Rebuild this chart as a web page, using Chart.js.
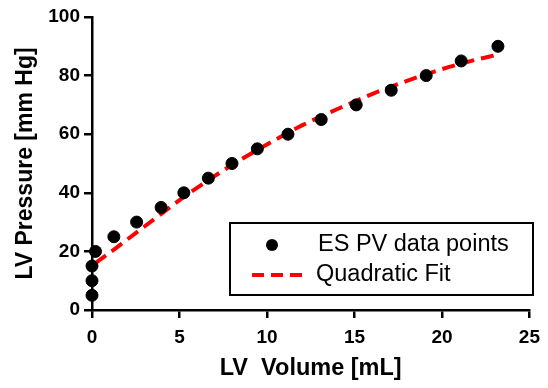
<!DOCTYPE html>
<html>
<head>
<meta charset="utf-8">
<script src="https://cdn.jsdelivr.net/npm/chart.js@4/dist/chart.umd.min.js"></script>
<style>
  html, body { margin: 0; padding: 0; background: #fff; }
  #wrap { width: 548px; height: 388px; }
</style>
</head>
<body>
<div id="wrap"><canvas id="c" width="548" height="388"></canvas></div>
<script>
// ES PV data points (volume mL, pressure mm Hg)
const volumes   = [0, 0, 0, 0.2, 1.25, 2.55, 3.95, 5.25, 6.65, 8.0, 9.45, 11.2, 13.1, 15.1, 17.1, 19.1, 21.1, 23.2];
const pressures = [5, 10, 15, 20, 25, 30, 35, 40, 45, 50, 55, 60, 65, 70, 75, 80, 85, 90];
// Quadratic fit curve
const fitVolumes   = [0.2, 1, 2, 3, 4, 5, 6, 8, 10, 12, 14, 16, 18, 20, 22, 23.1];
const fitPressures = [16, 19.5, 24, 28.5, 33, 37.5, 41.7, 49.5, 56.5, 63, 68.5, 73.7, 78.2, 82.2, 85.5, 87];
const seriesLabels = ['ES PV data points', 'Quadratic Fit'];
const xTicks = [0, 5, 10, 15, 20, 25];
const yTicks = [0, 20, 40, 60, 80, 100];

const FONT = "'Liberation Sans', Arial, Helvetica, sans-serif";

const legendPlugin = {
  id: 'boxLegend',
  afterDatasetsDraw(chart) {
    const ctx = chart.ctx;
    const ds = chart.data.datasets;
    ctx.save();
    ctx.strokeStyle = '#000';
    ctx.lineWidth = 2;
    ctx.strokeRect(230, 223, 303, 72);
    ctx.fillStyle = '#000';
    ctx.beginPath();
    ctx.arc(272, 245, 6, 0, Math.PI * 2);
    ctx.fill();
    ctx.strokeStyle = ds[1].borderColor;
    ctx.lineWidth = 4;
    ctx.setLineDash([12, 7]);
    ctx.beginPath();
    ctx.moveTo(252, 275);
    ctx.lineTo(303, 275);
    ctx.stroke();
    ctx.setLineDash([]);
    ctx.fillStyle = '#000';
    ctx.font = "23.5px " + FONT;
    ctx.textBaseline = 'middle';
    ctx.textAlign = 'left';
    ctx.fillText(ds[0].label, 318, 245);
    ctx.fillText(ds[1].label, 316, 275);
    ctx.restore();
  }
};

new Chart(document.getElementById('c'), {
  type: 'scatter',
  data: {
    datasets: [
      {
        label: seriesLabels[0],
        data: volumes.map((v, i) => ({ x: v, y: pressures[i] })),
        backgroundColor: '#000',
        borderColor: '#000',
        pointRadius: 6,
        pointHoverRadius: 6,
        showLine: false,
        clip: false,
        order: 1
      },
      {
        label: seriesLabels[1],
        data: fitVolumes.map((v, i) => ({ x: v, y: fitPressures[i] })),
        type: 'line',
        borderColor: '#ff0000',
        backgroundColor: '#ff0000',
        borderWidth: 4,
        borderDash: [13, 7],
        pointRadius: 0,
        tension: 0.4,
        cubicInterpolationMode: 'monotone',
        fill: false,
        clip: false,
        order: 2
      }
    ]
  },
  options: {
    responsive: false,
    animation: false,
    events: [],
    layout: { padding: { left: 0, top: 17, right: 17, bottom: 0 }, autoPadding: false },
    plugins: { legend: { display: false }, tooltip: { enabled: false }, title: { display: false } },
    scales: {
      x: {
        type: 'linear',
        min: 0, max: 25,
        afterBuildTicks(s) { s.ticks = xTicks.map(v => ({ value: v })); },
        afterFit(s) { s.height = 78; },
        border: { display: true, color: '#000', width: 2.5 },
        grid: { drawOnChartArea: false, drawTicks: true, tickLength: 8, color: '#000', lineWidth: 2.5 },
        ticks: { color: '#000', padding: 8, font: { family: FONT, size: 19, weight: 'bold' }, maxRotation: 0 },
        title: { display: true, text: 'LV  Volume [mL]', color: '#000', padding: { top: 5, bottom: 5 }, font: { family: FONT, size: 23.5, weight: 'bold' } }
      },
      y: {
        type: 'linear',
        min: 0, max: 100,
        afterBuildTicks(s) { s.ticks = yTicks.map(v => ({ value: v })); },
        afterFit(s) { s.width = 92; },
        border: { display: true, color: '#000', width: 2.5 },
        grid: { drawOnChartArea: false, drawTicks: true, tickLength: 8, color: '#000', lineWidth: 2.5 },
        ticks: { color: '#000', padding: 4, font: { family: FONT, size: 19, weight: 'bold' } },
        title: { display: true, text: 'LV Pressure [mm Hg]', color: '#000', padding: { top: 12, bottom: 12 }, font: { family: FONT, size: 23, weight: 'bold' } }
      }
    }
  },
  plugins: [legendPlugin]
});
</script>
</body>
</html>
